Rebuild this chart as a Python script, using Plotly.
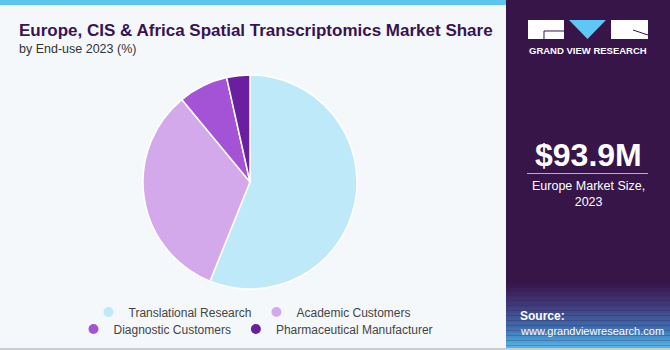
import plotly.graph_objects as go

# ---- data ----
labels = ["Translational Research", "Academic Customers", "Diagnostic Customers", "Pharmaceutical Manufacturer"]
shares = [56.1, 32.9, 7.5, 3.5]
colors = ["#BDE9F9", "#D4A9EC", "#A452D6", "#6A1FA0"]
legend_rows = ["legend", "legend", "legend2", "legend2"]

title_text = "Europe, CIS & Africa Spatial Transcriptomics Market Share"
subtitle_text = "by End-use 2023 (%)"
market_value = "$93.9M"
market_label = "Europe Market Size,<br>2023"

W, H = 670, 350
PANEL_X = 506
BG = "#F4F8FB"
PANEL = "#381549"
TITLE_C = "#3A1352"
FONT = "Liberation Sans, Arial, sans-serif"

fig = go.Figure()

# pie chart
cx, cy, r = 250, 182, 107
fig.add_trace(go.Pie(
    labels=labels, values=shares, sort=False, direction="clockwise", rotation=0,
    marker=dict(colors=colors, line=dict(color="white", width=1.5)),
    textinfo="none", hoverinfo="label+percent", showlegend=False,
    domain=dict(x=[(cx - r) / W, (cx + r) / W], y=[(H - cy - r) / H, (H - cy + r) / H]),
))

# legend entries
for lab, col, lg in zip(labels, colors, legend_rows):
    fig.add_trace(go.Scatter(
        x=[None], y=[None], mode="markers", name=lab, legend=lg,
        marker=dict(color=col, size=10, symbol="circle"), showlegend=True,
    ))

shapes = []
# left panel background and top stripe
shapes.append(dict(type="rect", xref="paper", yref="paper", x0=0, x1=PANEL_X / W, y0=0, y1=1,
                   fillcolor=BG, line_width=0, layer="below"))
shapes.append(dict(type="rect", xref="paper", yref="paper", x0=0, x1=PANEL_X / W, y0=1 - 5 / H, y1=1,
                   fillcolor="#5CC6EF", line_width=0, layer="below"))
# right panel
shapes.append(dict(type="rect", xref="paper", yref="paper", x0=PANEL_X / W, x1=1, y0=0, y1=1,
                   fillcolor=PANEL, line_width=0, layer="below"))
# gradient at bottom of right panel
g_top, g_bot = 283, 348
stops = [(0.0, (0x38, 0x15, 0x49)), (0.35, (0x40, 0x3C, 0x7C)), (0.7, (0x3F, 0x6F, 0xB0)), (1.0, (0x52, 0xB8, 0xEA))]
def interp(t):
    for (t0, c0), (t1, c1) in zip(stops[:-1], stops[1:]):
        if t0 <= t <= t1:
            f = (t - t0) / (t1 - t0)
            return "rgb(%d,%d,%d)" % tuple(round(a + (b - a) * f) for a, b in zip(c0, c1))
    return "rgb(%d,%d,%d)" % stops[-1][1]
n = 26
for i in range(n):
    y0p = g_top + (g_bot - g_top) * i / n
    y1p = g_top + (g_bot - g_top) * (i + 1) / n
    shapes.append(dict(type="rect", xref="paper", yref="paper", x0=PANEL_X / W, x1=1,
                       y0=1 - y1p / H, y1=1 - y0p / H, fillcolor=interp((i + 0.5) / n),
                       line_width=0, layer="below"))
# bottom grey line
shapes.append(dict(type="rect", xref="paper", yref="paper", x0=0, x1=1, y0=0, y1=2 / H,
                   fillcolor="#C9CDD2", line_width=0, layer="above"))

def px(x): return x / W
def py(y): return 1 - y / H

# logo
shapes.append(dict(type="rect", xref="paper", yref="paper", x0=px(528), x1=px(564), y0=py(39), y1=py(20),
                   fillcolor="white", line_width=0))
shapes.append(dict(type="path", xref="paper", yref="paper",
                   path="M %f %f L %f %f L %f %f" % (px(544), py(39), px(544), py(31), px(564), py(31)),
                   line=dict(color=PANEL, width=1)))
shapes.append(dict(type="path", xref="paper", yref="paper",
                   path="M %f %f L %f %f L %f %f Z" % (px(569), py(20), px(606), py(20), px(587.5), py(39)),
                   fillcolor="#5BC8F5", line_width=0))
shapes.append(dict(type="rect", xref="paper", yref="paper", x0=px(611), x1=px(648), y0=py(39), y1=py(20),
                   fillcolor="white", line_width=0))
shapes.append(dict(type="line", xref="paper", yref="paper", x0=px(633), y0=py(30), x1=px(648), y1=py(35),
                   line=dict(color=PANEL, width=1)))
# separator under value
shapes.append(dict(type="line", xref="paper", yref="paper", x0=px(527), y0=py(173.5), x1=px(648), y1=py(173.5),
                   line=dict(color="#B9AFC2", width=1)))

annotations = [
    dict(text="<b>" + title_text + "</b>", x=px(17), y=py(30), xanchor="left", yanchor="middle",
         font=dict(size=17, color=TITLE_C, family=FONT)),
    dict(text=subtitle_text, x=px(17), y=py(49), xanchor="left", yanchor="middle",
         font=dict(size=12.5, color="#333333", family=FONT)),
    dict(text="<b>GRAND VIEW RESEARCH</b>", x=px(588), y=py(51), xanchor="center", yanchor="middle",
         font=dict(size=9.5, color="white", family=FONT)),
    dict(text="<b>" + market_value + "</b>", x=px(588), y=py(155), xanchor="center", yanchor="middle",
         font=dict(size=32, color="white", family=FONT)),
    dict(text=market_label, x=px(588), y=py(194), xanchor="center", yanchor="middle",
         font=dict(size=12.5, color="white", family=FONT)),
    dict(text="<b>Source:</b>", x=px(518), y=py(316), xanchor="left", yanchor="middle",
         font=dict(size=12, color="white", family=FONT)),
    dict(text="www.grandviewresearch.com", x=px(518), y=py(331), xanchor="left", yanchor="middle",
         font=dict(size=11, color="white", family=FONT)),
]
for a in annotations:
    a.update(xref="paper", yref="paper", showarrow=False)

legend_common = dict(orientation="h", xanchor="center", yanchor="middle", bgcolor="rgba(0,0,0,0)",
                     font=dict(size=12, color="#444444", family=FONT), itemwidth=30, tracegroupgap=0)
fig.update_layout(
    width=W, height=H, margin=dict(l=0, r=0, t=0, b=0),
    paper_bgcolor=BG, plot_bgcolor="rgba(0,0,0,0)",
    xaxis=dict(visible=False, range=[0, 1]), yaxis=dict(visible=False, range=[0, 1]),
    shapes=shapes, annotations=annotations,
    legend=dict(x=px(252), y=py(312), **legend_common),
    legend2=dict(x=px(256), y=py(329), **legend_common),
    hovermode=False,
)

fig.write_html("out.html")
